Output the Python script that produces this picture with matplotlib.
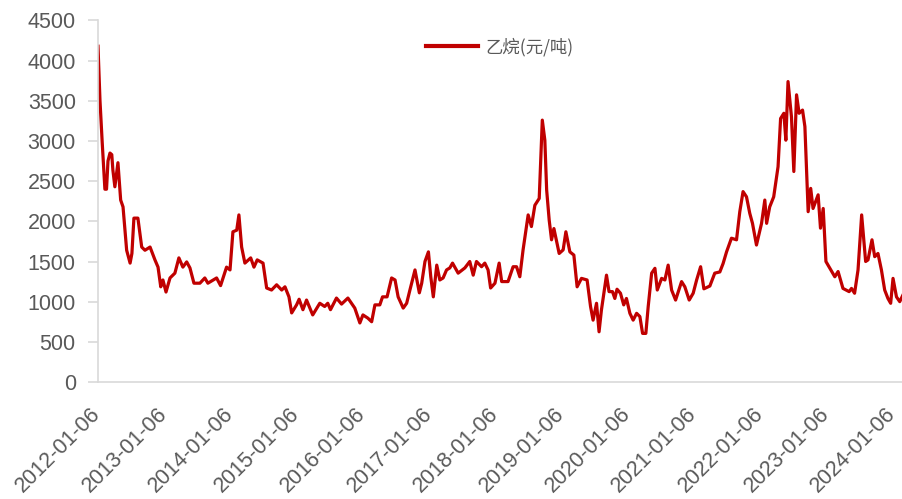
import matplotlib
matplotlib.use("Agg")
import matplotlib.pyplot as plt
import matplotlib.transforms as mtransforms
import pandas as pd

plt.rcParams['font.family'] = ['Liberation Sans', 'Noto Sans CJK SC', 'DejaVu Sans']

series_name = "乙烷(元/吨)"

dates = [
    "2012-01-06", "2012-01-17", "2012-01-29", "2012-02-13", "2012-02-22", "2012-03-01",
    "2012-03-12", "2012-03-22", "2012-03-28", "2012-04-08", "2012-04-25", "2012-05-10",
    "2012-05-23", "2012-06-12", "2012-07-01", "2012-07-11", "2012-07-22", "2012-08-13",
    "2012-09-03", "2012-09-21", "2012-10-19", "2012-11-15", "2012-12-02", "2012-12-17",
    "2012-12-29", "2013-01-15", "2013-02-06", "2013-03-05", "2013-03-27", "2013-04-18",
    "2013-05-09", "2013-05-27", "2013-06-18", "2013-07-21", "2013-08-17", "2013-09-03",
    "2013-10-21", "2013-11-12", "2013-12-15", "2014-01-03", "2014-01-19", "2014-02-09",
    "2014-02-21", "2014-03-08", "2014-03-26", "2014-04-27", "2014-05-15", "2014-06-02",
    "2014-07-04", "2014-07-24", "2014-08-20", "2014-09-17", "2014-10-15", "2014-11-02",
    "2014-11-24", "2014-12-09", "2015-01-05", "2015-01-19", "2015-02-09", "2015-03-01",
    "2015-04-04", "2015-05-13", "2015-06-09", "2015-06-26", "2015-07-11", "2015-08-13",
    "2015-09-10", "2015-10-15", "2015-11-22", "2015-12-20", "2016-01-06", "2016-02-02",
    "2016-02-23", "2016-03-12", "2016-04-08", "2016-04-23", "2016-05-18", "2016-06-12",
    "2016-07-01", "2016-07-18", "2016-08-15", "2016-09-03", "2016-09-21", "2016-10-19",
    "2016-11-12", "2016-11-25", "2016-12-13", "2017-01-01", "2017-01-14", "2017-01-28",
    "2017-02-16", "2017-03-05", "2017-03-23", "2017-04-11", "2017-04-29", "2017-05-14",
    "2017-06-14", "2017-07-21", "2017-08-17", "2017-09-05", "2017-09-23", "2017-10-21",
    "2017-11-08", "2017-11-26", "2017-12-10", "2018-01-03", "2018-01-26", "2018-02-09",
    "2018-03-16", "2018-04-13", "2018-05-02", "2018-05-20", "2018-06-07", "2018-07-05",
    "2018-07-23", "2018-08-11", "2018-09-04", "2018-09-21", "2018-10-05", "2018-10-15",
    "2018-10-29", "2018-11-11", "2018-11-24", "2018-12-23", "2019-01-14", "2019-01-29",
    "2019-02-20", "2019-03-14", "2019-04-01", "2019-04-25", "2019-05-26", "2019-06-14",
    "2019-06-28", "2019-07-17", "2019-07-31", "2019-08-13", "2019-09-10", "2019-09-24",
    "2019-10-13", "2019-10-26", "2019-11-07", "2019-11-26", "2019-12-14", "2019-12-29",
    "2020-01-17", "2020-02-04", "2020-02-23", "2020-03-12", "2020-03-27", "2020-04-14",
    "2020-04-27", "2020-05-16", "2020-06-03", "2020-06-16", "2020-07-10", "2020-07-28",
    "2020-08-15", "2020-09-03", "2020-09-25", "2020-10-28", "2020-11-15", "2020-12-09",
    "2020-12-31", "2021-01-19", "2021-02-10", "2021-02-28", "2021-04-02", "2021-04-29",
    "2021-05-27", "2021-06-14", "2021-07-03", "2021-07-30", "2021-08-27", "2021-09-14",
    "2021-10-02", "2021-10-21", "2021-11-08", "2021-11-23", "2021-12-15", "2022-01-12",
    "2022-01-30", "2022-02-09", "2022-02-26", "2022-03-20", "2022-04-13", "2022-04-27",
    "2022-05-15", "2022-05-26", "2022-06-07", "2022-06-26", "2022-07-09", "2022-07-24",
    "2022-08-07", "2022-08-26", "2022-09-08", "2022-09-26", "2022-10-10", "2022-10-23",
    "2022-11-20", "2022-12-03", "2022-12-18", "2023-01-02", "2023-01-24", "2023-02-20",
    "2023-03-10", "2023-04-06", "2023-05-10", "2023-05-23", "2023-06-09", "2023-06-28",
    "2023-07-18", "2023-08-09", "2023-08-22", "2023-09-13", "2023-09-28", "2023-10-16",
    "2023-11-04", "2023-11-22", "2023-12-10", "2023-12-25", "2024-01-07", "2024-01-26",
    "2024-02-13", "2024-03-01",
]

ethane_price = [
    4180, 3500, 2990, 2400, 2400, 2750,
    2850, 2830, 2640, 2430, 2730, 2265,
    2180, 1640, 1480, 1600, 2040, 2040,
    1680, 1640, 1680, 1520, 1430, 1185,
    1270, 1120, 1295, 1355, 1545, 1430,
    1495, 1420, 1230, 1230, 1295, 1230,
    1295, 1200, 1430, 1395, 1870, 1890,
    2080, 1680, 1480, 1545, 1430, 1520,
    1480, 1170, 1145, 1210, 1145, 1185,
    1060, 860, 960, 1030, 900, 1020,
    835, 980, 940, 980, 900, 1045,
    970, 1045, 920, 735, 835, 795,
    750, 960, 960, 1060, 1060, 1295,
    1270, 1060, 920, 980, 1145, 1395,
    1110, 1230, 1500, 1620, 1310, 1060,
    1455, 1270, 1295, 1395, 1420, 1480,
    1355, 1420, 1500, 1330, 1500, 1435,
    1480, 1395, 1170, 1230, 1480, 1250,
    1250, 1435, 1435, 1310, 1645, 2080,
    1935, 2200, 2285, 3260, 3010, 2390,
    2015, 1770, 1910, 1600, 1645, 1870,
    1620, 1580, 1185, 1290, 1270, 940,
    770, 980, 625, 895, 1330, 1125,
    1125, 1040, 1155, 1105, 960, 1040,
    855, 770, 855, 815, 605, 605,
    940, 1355, 1415, 1145, 1290, 1270,
    1455, 1145, 1020, 1250, 1185, 1020,
    1105, 1270, 1435, 1160, 1195, 1355,
    1370, 1475, 1620, 1790, 1770, 2120,
    2370, 2305, 2100, 1975, 1705, 1975,
    2265, 1975, 2180, 2305, 2680, 3280,
    3345, 3010, 3740, 3300, 2620, 3575,
    3345, 3385, 3180, 2120, 2410, 2160,
    2330, 1915, 2160, 1500, 1415, 1310,
    1375, 1165, 1125, 1165, 1105, 1395,
    2080, 1500, 1520, 1770, 1560, 1600,
    1395, 1145, 1040, 980, 1290, 1060,
    1000, 1080,
]

x_tick_labels = ["2012-01-06", "2013-01-06", "2014-01-06", "2015-01-06", "2016-01-06",
                 "2017-01-06", "2018-01-06", "2019-01-06", "2020-01-06", "2021-01-06",
                 "2022-01-06", "2023-01-06", "2024-01-06"]
y_ticks = [0, 500, 1000, 1500, 2000, 2500, 3000, 3500, 4000, 4500]

x = pd.to_datetime(dates)
xt = pd.to_datetime(x_tick_labels)

fig = plt.figure(figsize=(9.03, 4.99), dpi=100)
ax = fig.add_axes([98 / 903, 1 - 382 / 499, 805 / 903, (382 - 20.5) / 499])

ax.plot(x, ethane_price, color="#C00000", linewidth=2.3, label=series_name,
        solid_joinstyle="round")

ax.set_xlim(pd.Timestamp("2012-01-06"), pd.Timestamp("2024-03-02"))
ax.set_ylim(0, 4500)
ax.set_yticks(y_ticks)
ax.set_yticklabels([str(v) for v in y_ticks])
ax.set_xticks(xt)
ax.set_xticklabels(x_tick_labels, rotation=45, ha="right", va="top",
                   rotation_mode="anchor")

grey_axis = "#D9D9D9"
text_color = "#595959"
for s in ["top", "right"]:
    ax.spines[s].set_visible(False)
for s in ["left", "bottom"]:
    ax.spines[s].set_color(grey_axis)
    ax.spines[s].set_linewidth(1.2)

ax.tick_params(axis="y", direction="out", length=7, width=1.2, color=grey_axis,
               labelcolor=text_color, labelsize=15.5, pad=9)
ax.tick_params(axis="x", length=0, labelcolor=text_color, labelsize=15.5, pad=12)

offset = mtransforms.ScaledTranslation(-0.08, -0.05, fig.dpi_scale_trans)
for lbl in ax.get_xticklabels():
    lbl.set_transform(lbl.get_transform() + offset)

leg = ax.legend(loc="center", bbox_to_anchor=(0.4994, 0.927), frameon=False,
                handlelength=3.0, handletextpad=0.45,
                prop={"family": ["Noto Sans CJK SC", "DejaVu Sans"], "size": 12.5})
for t in leg.get_texts():
    t.set_color(text_color)
for h in leg.get_lines():
    h.set_linewidth(3)

fig.savefig("out.png", dpi=100)
